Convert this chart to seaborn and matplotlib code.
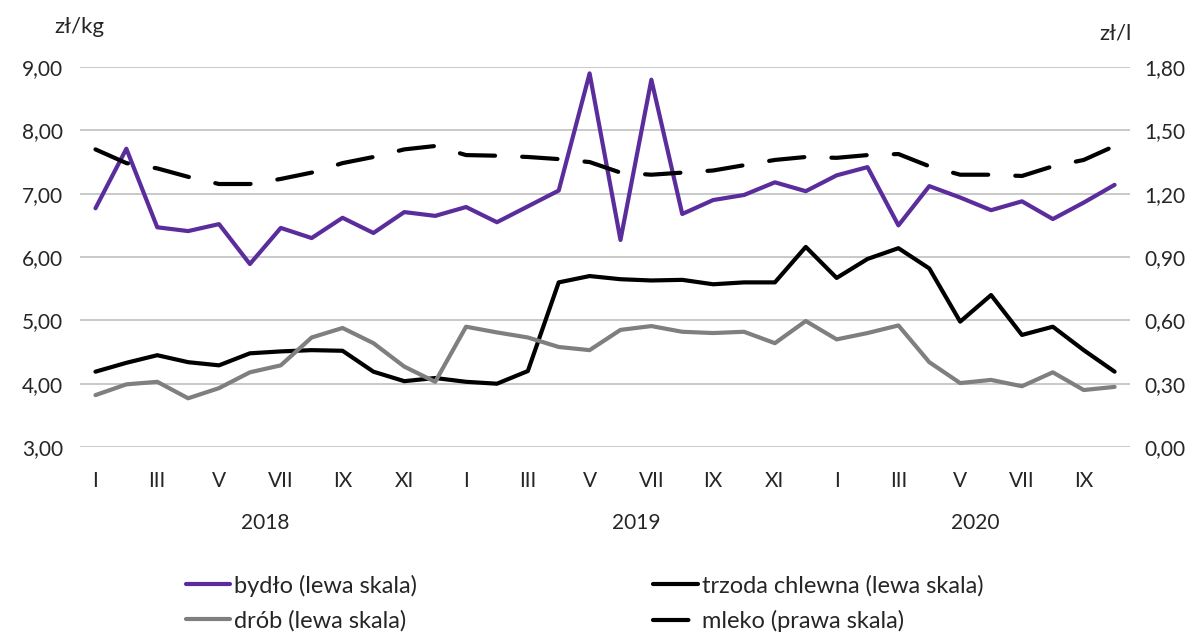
import numpy as np
import pandas as pd
import matplotlib
matplotlib.use("Agg")
import matplotlib.pyplot as plt
import matplotlib.transforms as mtransforms
import seaborn as sns

# === Data (I 2018 - X 2020, monthly) ===
month_labels = ["I", "II", "III", "IV", "V", "VI", "VII", "VIII", "IX", "X", "XI", "XII"]
years = ["2018", "2019", "2020"]
months = [m for y in years for m in month_labels][:34]

bydlo = [6.77, 7.71, 6.47, 6.41, 6.52, 5.89, 6.46, 6.30, 6.62, 6.38, 6.71, 6.65,
         6.79, 6.55, 6.80, 7.05, 8.90, 6.27, 8.80, 6.68, 6.90, 6.98, 7.18, 7.04,
         7.29, 7.42, 6.50, 7.12, 6.94, 6.74, 6.88, 6.60, 6.86, 7.14]
trzoda = [4.19, 4.33, 4.45, 4.34, 4.29, 4.48, 4.51, 4.53, 4.52, 4.19, 4.04, 4.09,
          4.03, 4.00, 4.20, 5.60, 5.70, 5.65, 5.63, 5.64, 5.57, 5.60, 5.60, 6.16,
          5.67, 5.97, 6.14, 5.82, 4.98, 5.40, 4.77, 4.90, 4.53, 4.19]
drob = [3.82, 3.99, 4.03, 3.77, 3.93, 4.18, 4.29, 4.73, 4.88, 4.64, 4.27, 4.03,
        4.90, 4.81, 4.73, 4.58, 4.53, 4.85, 4.91, 4.82, 4.80, 4.82, 4.64, 4.99,
        4.70, 4.80, 4.92, 4.34, 4.01, 4.06, 3.96, 4.18, 3.90, 3.95]
mleko = [1.41, 1.345, 1.32, 1.28, 1.246, 1.246, 1.27, 1.30, 1.345, 1.374, 1.41, 1.426,
         1.383, 1.38, 1.374, 1.364, 1.35, 1.30, 1.29, 1.30, 1.31, 1.335, 1.36, 1.374,
         1.37, 1.383, 1.388, 1.33, 1.29, 1.29, 1.284, 1.33, 1.36, 1.426]

df = pd.DataFrame({"idx": np.arange(len(months)), "month": months,
                   "bydlo": bydlo, "trzoda": trzoda, "drob": drob, "mleko": mleko})

sns.set_theme(style="white")
plt.rcParams["font.family"] = ["Lato", "DejaVu Sans"]

fig = plt.figure(figsize=(12, 6.35), dpi=100)
ax = fig.add_axes([0.0667, 0.296, 0.875, 0.5984])
ax2 = ax.twinx()

purple = "#5b2d9c"
lw = 3.0

sns.lineplot(data=df, x="idx", y="bydlo", ax=ax, color=purple, linewidth=lw,
             label="bydło (lewa skala)", legend=False)
sns.lineplot(data=df, x="idx", y="trzoda", ax=ax, color="black", linewidth=lw,
             label="trzoda chlewna (lewa skala)", legend=False)
sns.lineplot(data=df, x="idx", y="drob", ax=ax, color="#7f7f7f", linewidth=lw,
             label="drób (lewa skala)", legend=False)
sns.lineplot(data=df, x="idx", y="mleko", ax=ax2, color="black", linewidth=lw,
             label="mleko (prawa skala)", legend=False)
ax2.lines[0].set_dashes((8.5, 6.5))
ax2.lines[0].set_dash_capstyle("round")

# axes
ax.set_xlim(-0.5, len(months) - 0.5)
ax.set_ylim(3, 9)
ax2.set_ylim(0, 1.8)
ax.set_yticks(np.arange(3, 9.01, 1))
ax2.set_yticks(np.arange(0, 1.801, 0.3))
ax.set_yticklabels([f"{v:.2f}".replace(".", ",") for v in np.arange(3, 9.01, 1)], fontsize=15)
ax2.set_yticklabels([f"{v:.2f}".replace(".", ",") for v in np.arange(0, 1.801, 0.3)], fontsize=15)
ax.set_xticks(df["idx"][::2])
ax.set_xticklabels(df["month"][::2], fontsize=15)
ax.set_xlabel("")
ax.set_ylabel("")
ax2.set_ylabel("")
ax.grid(axis="y", color="#c0c0c0", linewidth=1.2)
ax.set_axisbelow(True)
for a in (ax, ax2):
    for s in a.spines.values():
        s.set_visible(False)
    a.tick_params(length=0)
ax.tick_params(axis="x", pad=17)
ax.tick_params(axis="y", pad=12)
ax2.tick_params(axis="y", pad=10)

# year labels centred under each group of months
trans = mtransforms.blended_transform_factory(ax.transData, ax.transAxes)
for i, y in enumerate(years):
    grp = df["idx"][i * 12:(i + 1) * 12]
    ax.text(grp.mean(), -0.20, y, transform=trans, ha="center", va="center", fontsize=15)

# units
fig.text(0.045, 0.958, "zł/kg", fontsize=16, ha="left", va="center")
fig.text(0.916, 0.948, "zł/l", fontsize=16, ha="left", va="center")

# legend, row-wise order
h1, l1 = ax.get_legend_handles_labels()
h2, l2 = ax2.get_legend_handles_labels()
handles = [h1[0], h1[2], h1[1], h2[0]]
labels = [l1[0], l1[2], l1[1], l2[0]]
fig.legend(handles, labels, loc="center", bbox_to_anchor=(0.487, 0.05), ncol=2,
           frameon=False, fontsize=17, handlelength=1.9, handletextpad=0.15,
           columnspacing=10.0, labelspacing=0.55)

plt.savefig("out.png", dpi=100)
plt.close()
